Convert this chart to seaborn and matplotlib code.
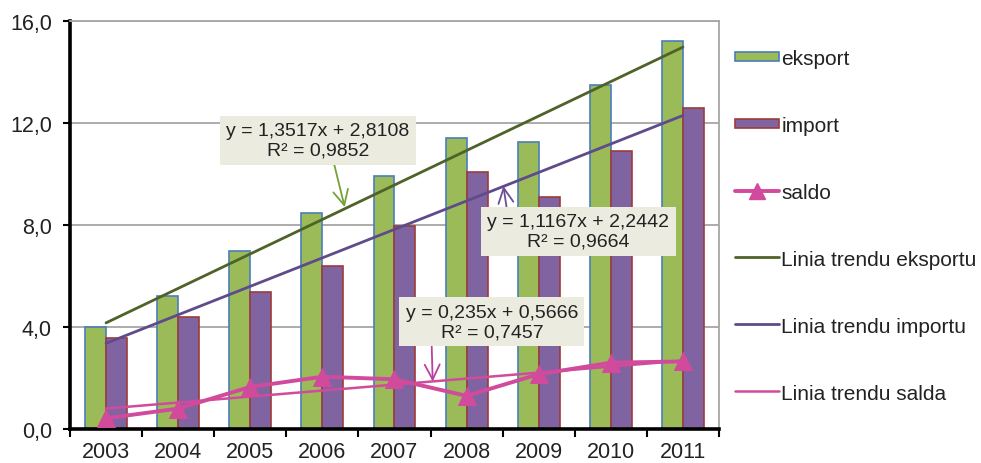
import numpy as np
import pandas as pd
import seaborn as sns
import matplotlib.pyplot as plt
from matplotlib.patches import Patch, Rectangle
from matplotlib.lines import Line2D
from matplotlib.legend_handler import HandlerPatch

# data
years = ['2003', '2004', '2005', '2006', '2007', '2008', '2009', '2010', '2011']
eksport = [4.0, 5.2, 7.0, 8.47, 9.92, 11.4, 11.25, 13.5, 15.2]
imports = [3.57, 4.4, 5.37, 6.4, 7.96, 10.08, 9.1, 10.9, 12.6]
saldo = [0.42, 0.8, 1.65, 2.05, 1.95, 1.3, 2.15, 2.6, 2.65]

# trend lines (eksport, import, saldo) as printed on the chart
trend_slopes = [1.3517, 1.1167, 0.235]
trend_intercepts = [2.8108, 2.2442, 0.5666]
trend_r2 = [0.9852, 0.9664, 0.7457]

legend_labels = ['eksport', 'import', 'saldo',
                 'Linia trendu eksportu', 'Linia trendu importu', 'Linia trendu salda']

green, green_edge = '#9BBB59', '#4A7EBB'
purple, purple_edge = '#8064A2', '#9E3B38'
pink = '#D14A9C'
trend_colors = ['#4F6228', '#5F4B8B', pink]
arrow_colors = ['#76A13A', '#6A4F96', '#B940A0']

sns.set_theme(style='white')
plt.rcParams['font.family'] = ['Liberation Sans', 'DejaVu Sans']

df = pd.DataFrame({
    'rok': years * 2,
    'wartosc': eksport + imports,
    'seria': ['eksport'] * len(years) + ['import'] * len(years),
})

fig = plt.figure(figsize=(9.81, 4.64), dpi=100)
ax = fig.add_axes([70 / 981, 1 - 430 / 464, (719 - 70) / 981, (430 - 22) / 464])

sns.barplot(data=df, x='rok', y='wartosc', hue='seria', order=years,
            hue_order=['eksport', 'import'], palette=[green, purple],
            saturation=1, width=0.58, gap=0, legend=False, ax=ax, zorder=2)
for cont, ec in zip(ax.containers, [green_edge, purple_edge]):
    for bar in cont:
        bar.set_edgecolor(ec)
        bar.set_linewidth(1.2)

pos = np.arange(len(years))

# trend lines from first to last category
ends = np.array([pos[0], pos[-1]])
for k in range(3):
    sns.lineplot(x=ends, y=trend_slopes[k] * (ends + 1) + trend_intercepts[k],
                 color=trend_colors[k], lw=2.0 if k < 2 else 1.8, ax=ax, zorder=3)

sns.lineplot(x=pos, y=saldo, color=pink, lw=2.8, marker='^', markersize=13,
             markeredgecolor=pink, sort=False, estimator=None, ax=ax, zorder=4)

# trend equation boxes
box_centers = [(2.94, 11.33), (6.55, 7.76), (5.35, 4.2)]
arrow_tips = [(3.31, 8.70), (5.51, 9.53), (4.53, 1.86)]
rel_pos = [(0.58, 0.0), (0.11, 1.0), (0.15, 0.0)]
for k in range(3):
    fmt = '{:.3f}' if k == 2 else '{:.4f}'
    txt = ('y = ' + fmt + 'x + {:.4f}\nR² = {:.4f}').format(
        trend_slopes[k], trend_intercepts[k], trend_r2[k])
    txt = txt.replace('.', ',')
    ax.annotate(txt, xy=arrow_tips[k], xytext=box_centers[k],
                ha='center', va='center', fontsize=14, color='#222222',
                linespacing=1.2, zorder=6,
                bbox=dict(boxstyle='square,pad=0.32', fc='#ECEBE0', ec='none'),
                arrowprops=dict(arrowstyle='->,head_length=0.6,head_width=0.3',
                                color=arrow_colors[k], lw=1.3, relpos=rel_pos[k],
                                shrinkA=0, shrinkB=0, mutation_scale=18))

ax.set_xlim(-0.5, len(years) - 0.5)
ax.set_ylim(0, 16)
ax.set_yticks([0, 4, 8, 12, 16])
ax.set_yticklabels(['0,0', '4,0', '8,0', '12,0', '16,0'])
ax.set_xticks(np.arange(-0.5, len(years), 1))
ax.set_xticklabels([])
ax.set_xticks(pos, minor=True)
ax.set_xticklabels(years, minor=True)
ax.set_xlabel('')
ax.set_ylabel('')
ax.tick_params(axis='x', which='major', direction='out', length=6, width=1.5,
               color='black', bottom=True)
ax.tick_params(axis='x', which='minor', length=0, pad=9, labelsize=15.5,
               labelcolor='#222222')
ax.tick_params(axis='y', direction='out', length=5, width=1.5, color='black',
               left=True, pad=8, labelsize=15.5, labelcolor='#222222')

ax.yaxis.grid(True, color='#A6A6A6', lw=1.3)
ax.set_axisbelow(True)
for side in ['left', 'bottom']:
    ax.spines[side].set_color('black')
    ax.spines[side].set_linewidth(2.6)
for side in ['right', 'top']:
    ax.spines[side].set_color('#A6A6A6')
    ax.spines[side].set_linewidth(1.3)


def thin_rect(legend, orig_handle, xdescent, ydescent, width, height, fontsize):
    return Rectangle((-xdescent, -ydescent + height * 0.2), width, height * 0.6)


handles = [
    Patch(facecolor=green, edgecolor=green_edge, lw=1.2),
    Patch(facecolor=purple, edgecolor=purple_edge, lw=1.2),
    Line2D([], [], color=pink, lw=2.8, marker='^', markersize=11),
    Line2D([], [], color=trend_colors[0], lw=2.0),
    Line2D([], [], color=trend_colors[1], lw=2.0),
    Line2D([], [], color=trend_colors[2], lw=1.8),
]
fig.legend(handles, legend_labels, loc='upper left',
           bbox_to_anchor=(735 / 981, 1 - 50 / 464), frameon=False,
           fontsize=15, labelspacing=2.3, handlelength=2.1,
           handletextpad=0.12, borderpad=0, borderaxespad=0,
           labelcolor='#222222',
           handler_map={Patch: HandlerPatch(patch_func=thin_rect)})

fig.savefig('out.png', dpi=100)
